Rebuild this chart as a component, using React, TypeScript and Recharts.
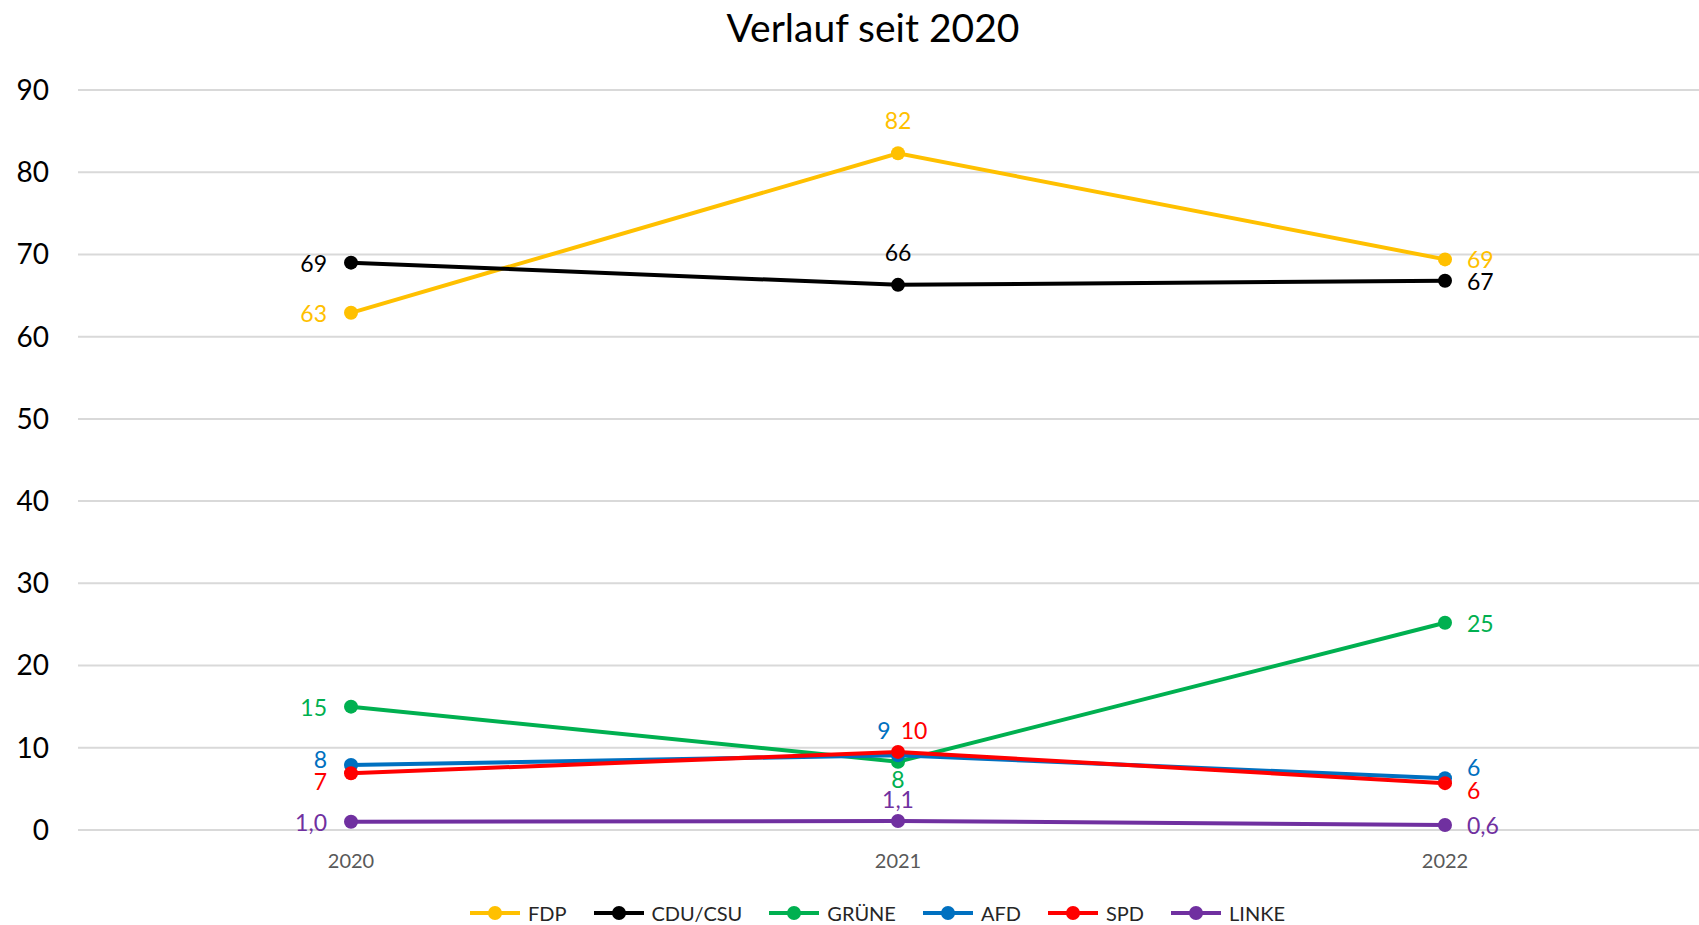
import React from 'react';
import { LineChart, Line, XAxis, YAxis, CartesianGrid, Legend } from 'recharts';

const years = ['2020', '2021', '2022'];
const fdp = [62.9, 82.3, 69.4];
const cdu = [69.0, 66.3, 66.8];
const gruene = [15.0, 8.3, 25.2];
const afd = [7.9, 9.1, 6.3];
const spd = [6.9, 9.5, 5.7];
const linke = [1.0, 1.1, 0.6];
const yTicks = [0, 10, 20, 30, 40, 50, 60, 70, 80, 90];

const seriesNames = ['FDP', 'CDU/CSU', 'GRÜNE', 'AFD', 'SPD', 'LINKE'];
const seriesValues = [fdp, cdu, gruene, afd, spd, linke];
const seriesColors = ['#FFC000', '#000000', '#00B050', '#0070C0', '#FF0000', '#7030A0'];
const seriesDecimals = [0, 0, 0, 0, 0, 1];

const data = years.map((year, i) => {
  const row: Record<string, string | number> = { year };
  seriesNames.forEach((name, s) => {
    row[name] = seriesValues[s][i];
  });
  return row;
});

// label placement per series, per category index: [dx, dy, anchor]
const labelPlacement: Record<string, [number, number, string][]> = {
  'FDP': [[-24, 0, 'end'], [0, -33, 'middle'], [22, 0, 'start']],
  'CDU/CSU': [[-24, 0, 'end'], [0, -33, 'middle'], [22, 0, 'start']],
  'GRÜNE': [[-24, 0, 'end'], [0, 17, 'middle'], [22, 0, 'start']],
  'AFD': [[-24, -6, 'end'], [-14, -25, 'middle'], [22, -11, 'start']],
  'SPD': [[-24, 8, 'end'], [16, -22, 'middle'], [22, 7, 'start']],
  'LINKE': [[-24, 0, 'end'], [0, -22, 'middle'], [22, 0, 'start']],
};

const FONT = 'Lato, "Noto Sans", sans-serif';

const makeLabel = (name: string, color: string, decimals: number) => (props: any) => {
  const { x, y, value, index } = props;
  if (x == null || y == null || value == null) return null;
  const [dx, dy, anchor] = labelPlacement[name][index] || [0, -20, 'middle'];
  const txt = Number(value).toFixed(decimals).replace('.', ',');
  return (
    <text
      key={`${name}-${index}`}
      x={x + dx}
      y={y + dy}
      textAnchor={anchor as any}
      dominantBaseline="central"
      fill={color}
      fontSize={23}
      fontFamily={FONT}
    >
      {txt}
    </text>
  );
};

const renderLegend = () => (
  <div
    style={{
      width: 1699,
      height: 24,
      display: 'flex',
      justifyContent: 'center',
      alignItems: 'center',
      paddingLeft: 56,
      boxSizing: 'border-box',
      fontFamily: FONT,
    }}
  >
    {seriesNames.map((name, s) => (
      <div key={name} style={{ display: 'flex', alignItems: 'center', marginRight: s < seriesNames.length - 1 ? 27 : 0 }}>
        <svg width={50} height={16}>
          <line x1={0} y1={8} x2={50} y2={8} stroke={seriesColors[s]} strokeWidth={4} />
          <circle cx={25} cy={8} r={7} fill={seriesColors[s]} />
        </svg>
        <span style={{ marginLeft: 8, fontSize: 20, color: '#262626', lineHeight: '24px' }}>{name}</span>
      </div>
    ))}
  </div>
);

export default function App() {
  return (
    <div style={{ position: 'absolute', left: 0, top: 0, width: 1699, height: 925, background: '#fff', fontFamily: FONT }}>
      <div
        style={{
          position: 'absolute',
          top: 0,
          left: 0,
          width: 1699,
          height: 54,
          lineHeight: '54px',
          textAlign: 'center',
          paddingLeft: 47,
          boxSizing: 'border-box',
          fontSize: 39,
          color: '#000',
        }}
      >
        Verlauf seit 2020
      </div>
      <LineChart width={1699} height={925} data={data} margin={{ top: 90, right: 0, left: 0, bottom: 0 }}>
        <CartesianGrid vertical={false} stroke="#D9D9D9" strokeWidth={2} />
        <XAxis
          dataKey="year"
          type="category"
          padding={{ left: 273, right: 254 }}
          axisLine={false}
          tickLine={false}
          tickSize={0}
          tickMargin={24}
          height={71}
          interval={0}
          tick={{ fontSize: 20, fill: '#595959', fontFamily: FONT }}
        />
        <YAxis
          domain={[0, 90]}
          ticks={yTicks}
          width={78}
          axisLine={false}
          tickLine={false}
          tickSize={0}
          tickMargin={29}
          interval={0}
          tick={{ fontSize: 28, fill: '#000', fontFamily: FONT }}
        />
        <Legend verticalAlign="bottom" height={24} content={renderLegend} wrapperStyle={{ bottom: 0, left: 0 }} />
        {seriesNames.map((name, s) => (
          <Line
            key={name}
            type="linear"
            dataKey={name}
            stroke={seriesColors[s]}
            strokeWidth={4}
            dot={{ r: 7, fill: seriesColors[s], stroke: seriesColors[s], strokeWidth: 0 }}
            activeDot={false}
            isAnimationActive={false}
            label={makeLabel(name, seriesColors[s], seriesDecimals[s])}
          />
        ))}
      </LineChart>
    </div>
  );
}
